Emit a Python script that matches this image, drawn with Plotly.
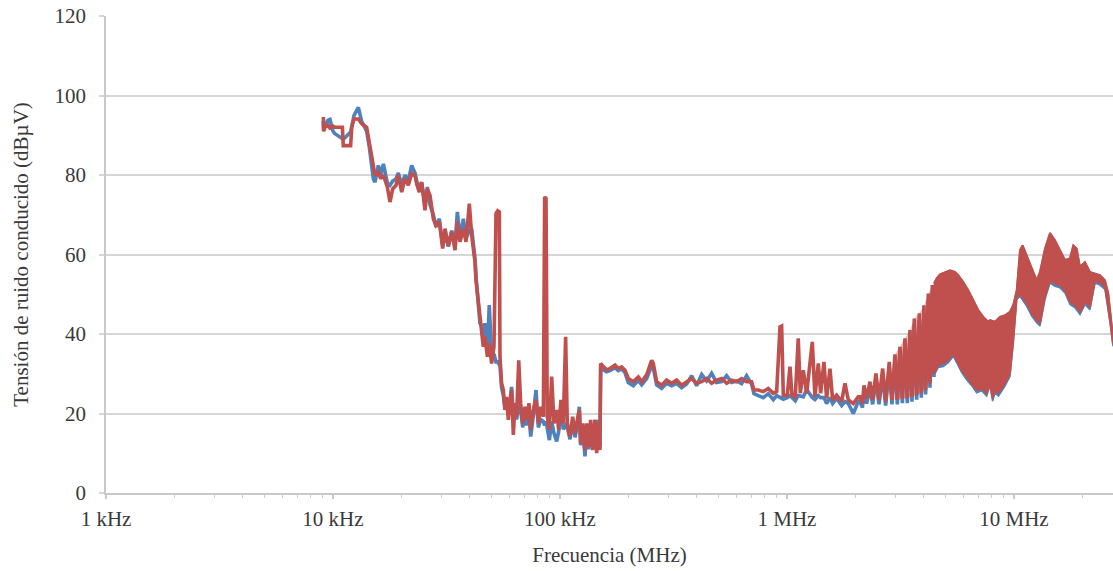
import plotly.graph_objects as go

# ---------------- data ----------------
# Line part of the spectrum: frequency in kHz, levels in dBµV
freq_khz = [
    9.07, 9.08, 9.22, 9.5, 9.7, 10.0, 10.2, 11.0, 11.1, 11.96, 12.09, 12.38, 12.93, 13.38, 14.07, 14.46,
    15.06, 15.31, 15.84, 16.22, 16.67, 17.35, 17.83, 18.32, 18.95, 19.4, 20.07, 20.76, 21.47, 22.21,
    22.98, 23.37, 24.0, 24.58, 25.43, 26.04, 26.75, 27.67, 28.43, 29.41, 30.42, 31.15, 32.23, 33.34,
    34.49, 35.31, 36.27, 37.52, 38.55, 39.87, 40.83, 42.23,
    42.66, 43.7, 44.4, 45.2, 45.95, 46.7, 47.9, 48.8, 50.0, 51.2, 52.25, 53.15, 54.06, 54.4, 55.3,
    56.3, 57.2, 58.2, 59.2, 60.2, 61.2, 62.3, 63.4, 64.4, 65.8, 67.1, 68.5, 70.1, 71.3, 73.0, 74.3,
    76.3, 78.4, 80.3, 82.2, 84.5, 85.6, 86.8, 87.9, 89.8, 91.9, 94.1, 96.7, 98.7, 101.0, 103.4, 105.9,
    107.7, 110.7, 113.7, 116.5, 119.3, 121.7, 123.3, 125.9, 128.9, 131.1, 133.8, 136.5, 139.3, 142.6,
    145.1, 147.5, 150.0, 151.1, 155.2, 160.6, 166.1,
    174.7, 180.7, 186.9, 193.4, 200, 210.4, 221.3, 229, 240.9, 249.2, 253.4, 257.7, 266.6, 280.5,
    295.1, 310.4, 326.5, 343.6, 361.4, 380.2, 399.9, 420.9, 442.7, 465.7, 489.9, 515.5, 542.3, 570.4,
    600, 631.3, 664.1, 698.6, 715.4, 747.5, 786.4, 827.3, 870.8, 900.7, 931.6, 947.5, 963.4, 1003,
    1031, 1052, 1088, 1121, 1145, 1180, 1221, 1293, 1328, 1374, 1407, 1455, 1495, 1547, 1589, 1655,
    1741, 1801, 1863, 1960, 2061,
    2097, 2150, 2184, 2244, 2321, 2384, 2466, 2543, 2640, 2721, 2823, 2901, 2991, 3063, 3147, 3223,
    3310, 3389, 3483, 3554, 3639, 3726, 3828, 3906, 4013, 4082, 4194, 4266, 4368, 4442,
]

red_db = [
    94.6, 91.0, 92.0, 92.5, 91.8, 92.3, 92.0, 92.0, 87.4, 87.4, 92.0, 94.1, 94.1, 92.9, 92.0, 88.3,
    83.2, 79.9, 80.7, 79.1, 80.0, 77.0, 73.2, 76.5, 77.4, 80.0, 75.7, 79.1, 77.4, 80.3,
    79.9, 77.8, 75.7, 78.2, 71.1, 76.5, 74.9, 69.0, 67.3, 68.2, 61.5, 66.5, 62.3, 65.7,
    61.1, 68.2, 63.2, 66.5, 63.2, 72.8, 64.8, 58.1,
    53.5, 48.5, 43.5, 41.0, 36.8, 39.3, 34.3, 37.6, 32.6, 36.8, 70.3, 71.0, 70.7, 34.3, 27.6,
    25.9, 20.9, 24.2, 18.4, 22.6, 25.9, 14.6, 22.6, 19.2, 33.4, 22.6, 17.5, 21.7, 18.4, 22.6, 15.9,
    20.9, 23.4, 17.5, 21.7, 19.2, 74.5, 74.1, 19.2, 15.9, 29.3, 17.5, 20.9, 15.9, 23.4, 17.5, 39.3,
    17.5, 14.2, 19.2, 15.0, 18.4, 20.9, 12.5, 17.5, 10.8, 17.5, 11.6, 18.4, 10.8, 18.4,
    10.0, 17.5, 10.8, 32.6, 31.8, 31.0, 31.3,
    32.2, 31.3, 31.7, 30.9, 28.8, 28.0, 29.2, 28.0, 29.7, 32.2, 33.4, 32.6, 28.0, 27.1,
    28.4, 27.6, 28.4, 27.1, 28.0, 28.8, 27.6, 28.0, 28.8, 27.6, 28.4, 28.8, 27.6, 28.4,
    28.0, 28.8, 28.0, 28.0, 25.9, 25.9, 25.5, 26.3, 25.1, 25.5, 41.8, 42.0, 24.6, 24.6,
    31.8, 24.6, 24.2, 38.9, 25.1, 30.9, 25.1, 38.0, 24.2, 32.6, 25.1, 33.0, 23.8, 31.3, 23.4, 24.6,
    23.0, 27.6, 23.4, 22.5, 24.2,
    24.2, 22.5, 27.1, 23.8, 28.0, 23.4, 30.1, 23.4, 31.3, 23.0, 33.0, 23.4, 34.9, 23.4, 36.8, 23.8,
    38.9, 23.8, 41.0, 24.2, 43.9, 24.6, 45.2, 25.1, 47.2, 25.9, 50.2, 27.6, 52.3, 30.1,
]

blue_db = [
    93.5, 92.0, 92.5, 93.8, 94.0, 91.0, 90.4, 89.2, 89.0, 90.8, 92.5, 95.0, 97.0, 93.5, 91.0, 87.0,
    79.0, 78.2, 82.4, 80.0, 82.8, 78.0, 77.4, 78.5, 79.0, 80.5, 77.5, 80.0, 78.5, 82.4,
    80.5, 78.5, 76.5, 78.2, 72.5, 77.0, 72.5, 70.0, 67.0, 69.0, 62.3, 65.0, 62.0, 66.0,
    62.5, 70.7, 64.0, 69.0, 64.0, 66.0, 66.5, 59.0,
    54.5, 48.0, 42.7, 42.0, 38.0, 42.7, 36.0, 47.3, 34.0, 35.0, 33.0, 33.0, 32.0, 32.0, 26.5,
    24.5, 21.5, 23.0, 19.5, 24.0, 26.7, 20.0, 21.0, 18.5, 22.0, 21.0, 16.5, 20.0, 17.0, 20.0, 14.2,
    19.5, 25.9, 16.5, 18.5, 18.0, 17.0, 18.0, 16.0, 13.3, 18.0, 15.0, 13.0, 15.5, 21.0, 16.0, 17.0,
    16.5, 13.5, 18.0, 14.0, 17.0, 21.7, 12.0, 16.0, 9.2, 16.0, 11.0, 17.0, 11.5, 18.4,
    11.0, 18.4, 11.5, 31.8, 31.0, 30.5, 30.8,
    31.5, 30.8, 31.2, 30.3, 27.8, 27.0, 28.3, 27.2, 28.8, 31.0, 32.0, 31.5, 27.2, 26.3,
    27.6, 27.0, 27.6, 26.5, 27.4, 29.5, 27.0, 29.8, 28.2, 30.1, 27.8, 28.0, 29.5, 27.8,
    28.2, 27.5, 29.5, 27.4, 25.0, 24.5, 24.0, 25.0, 23.5, 24.5, 24.0, 24.0, 23.6, 24.0,
    24.5, 24.0, 23.2, 24.5, 24.4, 24.2, 26.0, 24.0, 23.5, 24.5, 24.0, 24.0, 22.5, 24.0, 22.5, 23.8,
    22.0, 23.0, 22.5, 20.0, 23.0,
    23.0, 21.5, 25.5, 22.5, 26.5, 22.3, 28.5, 22.3, 29.5, 22.0, 31.5, 22.3, 33.5, 22.3, 35.5, 22.6,
    37.5, 22.6, 39.5, 23.0, 42.5, 23.5, 43.5, 24.0, 45.5, 24.8, 48.5, 26.5, 50.5, 29.2,
]

# Dense oscillation band above ~4.4 MHz: envelopes (frequency in MHz, dBµV)
band_upper_mhz = [4.442, 4.564, 4.722, 4.968, 5.226, 5.498, 5.686, 5.981, 6.292, 6.621, 6.965, 7.327,
                  7.709, 7.84, 8.25, 8.67, 9.13, 9.60, 9.93, 10.28, 10.63, 10.92, 11.37, 11.97, 12.59,
                  13.02, 13.70, 14.41, 15.16, 15.95, 16.78, 17.65, 18.25, 18.89, 19.54, 20.55, 21.61,
                  22.75, 23.93, 25.17, 26.03, 27.31]
band_upper_db = [52.7, 54.0, 55.0, 55.6, 56.0, 55.6, 54.8, 53.1, 51.0, 48.5, 46.0, 44.3,
                 43.1, 43.5, 43.1, 44.3, 44.7, 45.6, 47.3, 51.0, 61.1, 62.3, 59.8, 56.9, 53.5,
                 55.6, 61.5, 65.4, 63.6, 61.1, 58.6, 59.0, 62.3, 61.5, 56.9, 58.1, 55.6,
                 55.2, 54.8, 53.5, 50.2, 39.3]
band_lower_mhz = [4.442, 4.64, 4.883, 5.137, 5.405, 5.591, 5.883, 6.188, 6.51, 6.848, 7.204, 7.58,
                  7.84, 8.05, 8.25, 8.55, 9.13, 9.60, 9.93, 10.28, 10.63, 11.37, 11.97, 12.59, 13.02,
                  13.70, 14.41, 15.16, 15.95, 16.78, 17.65, 18.57, 19.54, 20.55, 21.61, 22.75, 23.93,
                  25.17, 26.5, 27.31]
band_lower_db = [30.1, 32.2, 32.6, 33.4, 35.1, 33.4, 30.9, 29.2, 27.6, 25.9, 26.3, 25.1,
                 27.6, 23.8, 25.9, 25.1, 27.6, 30.1, 38.5, 49.4, 50.2, 47.7, 45.2, 43.5, 42.7,
                 49.4, 53.5, 52.7, 52.3, 51.0, 48.1, 47.3, 45.6, 48.1, 46.8, 53.5, 53.0,
                 51.9, 43.5, 37.6]
blue_lower_db = [29.5, 31.6, 31.8, 32.8, 34.4, 32.7, 30.3, 28.5, 27.0, 25.2, 25.7, 24.4,
                 27.0, 23.1, 25.2, 24.4, 26.9, 29.3, 37.7, 48.6, 49.5, 47.0, 44.5, 42.8, 42.0,
                 48.7, 52.8, 52.0, 51.6, 50.3, 47.4, 46.6, 44.9, 47.4, 46.1, 52.8, 52.3,
                 51.2, 42.8, 36.9]

# Pale area between the comb spikes (3-4.4 MHz)
comb_top_mhz = [2.991, 3.147, 3.310, 3.483, 3.639, 3.828, 4.013, 4.194, 4.368, 4.442]
comb_top_db = [34.9, 36.8, 38.9, 41.0, 43.9, 45.2, 47.2, 50.2, 52.3, 52.7]
comb_base_mhz = [4.442, 4.266, 4.082, 3.906, 3.726, 3.554, 3.389, 3.223, 3.063, 2.991]
comb_base_db = [30.1, 27.6, 25.9, 25.1, 24.6, 24.2, 23.8, 23.8, 23.4, 23.4]

tick_vals = [0.001, 0.01, 0.1, 1, 10]
tick_text = ["1 kHz", "10 kHz", "100 kHz", "1 MHz", "10 MHz"]
y_ticks = [0, 20, 40, 60, 80, 100, 120]

RED = "#C0504D"
BLUE = "#4F81BD"
FONT = "Liberation Serif"
TXT = "#3a3a3a"

freq_mhz = [f / 1000.0 for f in freq_khz]

fig = go.Figure()

fig.add_trace(go.Scatter(x=freq_mhz, y=blue_db, mode="lines",
                         line=dict(color=BLUE, width=3.6), hoverinfo="skip", showlegend=False))
fig.add_trace(go.Scatter(x=band_upper_mhz + band_lower_mhz[::-1],
                         y=band_upper_db + blue_lower_db[::-1],
                         mode="lines", fill="toself", fillcolor=BLUE,
                         line=dict(color=BLUE, width=1.5), hoverinfo="skip", showlegend=False))
fig.add_trace(go.Scatter(x=comb_top_mhz + comb_base_mhz, y=comb_top_db + comb_base_db,
                         mode="lines", fill="toself", fillcolor="rgba(192,80,77,0.35)",
                         line=dict(width=0), hoverinfo="skip", showlegend=False))
fig.add_trace(go.Scatter(x=freq_mhz, y=red_db, mode="lines",
                         line=dict(color=RED, width=3.6), hoverinfo="skip", showlegend=False))
fig.add_trace(go.Scatter(x=band_upper_mhz + band_lower_mhz[::-1],
                         y=band_upper_db + band_lower_db[::-1],
                         mode="lines", fill="toself", fillcolor=RED,
                         line=dict(color=RED, width=2), hoverinfo="skip", showlegend=False))

minor_vals = [m * 10 ** d for d in range(-3, 2) for m in range(2, 10)]

fig.update_layout(
    width=1113, height=571,
    margin=dict(l=106, r=0, t=16, b=78, autoexpand=False),
    paper_bgcolor="white", plot_bgcolor="white",
    font=dict(family=FONT, size=21, color=TXT),
    xaxis=dict(
        type="log", range=[-3, 1.4363], automargin=False,
        tickvals=tick_vals, ticktext=tick_text,
        showgrid=False, zeroline=False,
        showline=True, linecolor="#c8c8c8", linewidth=1.5,
        ticks="outside", ticklen=4, tickcolor="#c8c8c8", tickwidth=1.5,
        minor=dict(tickvals=minor_vals, ticks="outside", ticklen=3, tickcolor="#cccccc", tickwidth=1),
        ticklabelstandoff=2,
        tickfont=dict(family=FONT, size=21, color=TXT),
        title=dict(text="Frecuencia (MHz)", font=dict(family=FONT, size=21, color=TXT), standoff=17),
    ),
    yaxis=dict(
        range=[0, 120], tickvals=y_ticks, automargin=False,
        showgrid=True, gridcolor="#d6d6d6", gridwidth=1.5,
        zeroline=False,
        showline=True, linecolor="#c8c8c8", linewidth=1.5,
        ticks="outside", ticklen=5, tickcolor="#d6d6d6", tickwidth=1.5,
        ticklabelstandoff=9,
        tickfont=dict(family=FONT, size=21, color=TXT),
        title=dict(text="Tensión de ruido conducido (dBµV)", font=dict(family=FONT, size=21, color=TXT), standoff=20),
    ),
)

fig.write_html(
    "out.html",
    config={"displayModeBar": False},
    post_script="document.body.style.margin='0';document.body.style.padding='0';document.body.style.overflow='hidden';",
)
